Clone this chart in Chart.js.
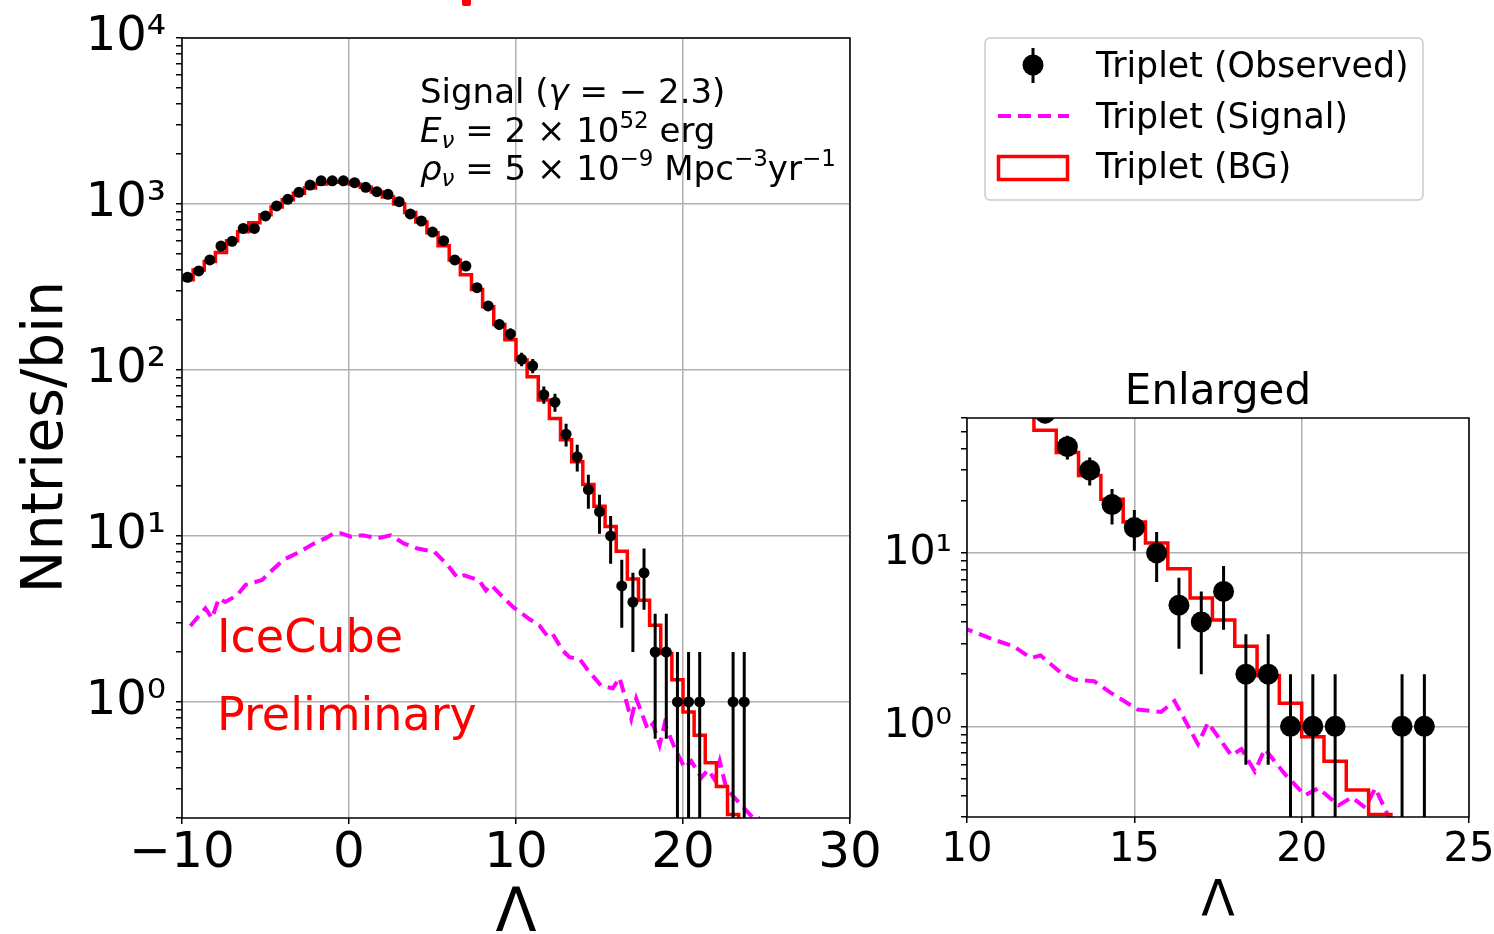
<!DOCTYPE html>
<html>
<head>
<meta charset="utf-8">
<title>Triplet Lambda distribution</title>
<script src="https://cdn.jsdelivr.net/npm/chart.js@4.4.0/dist/chart.umd.min.js"></script>
<style>
  html, body { margin: 0; padding: 0; background: #fff; }
  #wrap { position: relative; width: 1494px; height: 934px; overflow: hidden; }
  canvas, svg { position: absolute; left: 0; top: 0; }
</style>
</head>
<body>
<div id="wrap">
  <canvas id="mainChart" width="1494" height="934"></canvas>
  <canvas id="zoomChart" width="1494" height="934"></canvas>
  <svg id="overlay" width="1494" height="934" font-family="DejaVu Sans, sans-serif">
    <rect x="462" y="-4" width="9" height="10" rx="2" fill="#ff0000"/>

    <!-- y axis label of the main panel -->
    <text transform="translate(62,437) rotate(-90)" text-anchor="middle" font-size="57">Nntries/bin</text>

    <!-- signal annotation -->
    <text x="420" y="103" font-size="34">Signal (<tspan font-style="italic">γ</tspan> = − 2.3)</text>
    <text x="420" y="141.5" font-size="34"><tspan font-style="italic">E</tspan><tspan font-style="italic" font-size="23" dy="6">ν</tspan><tspan dy="-6"> = 2 × 10</tspan><tspan font-size="23" dy="-14">52</tspan><tspan dy="14"> erg</tspan></text>
    <text x="420" y="180" font-size="34"><tspan font-style="italic">ρ</tspan><tspan font-style="italic" font-size="23" dy="6">ν</tspan><tspan dy="-6"> = 5 × 10</tspan><tspan font-size="23" dy="-14">−9</tspan><tspan dy="14"> Mpc</tspan><tspan font-size="23" dy="-14">−3</tspan><tspan dy="14">yr</tspan><tspan font-size="23" dy="-14">−1</tspan></text>

    <text x="217" y="652" font-size="46" fill="#ff0000">IceCube</text>
    <text x="217" y="730" font-size="46" fill="#ff0000">Preliminary</text>

    <text x="1218" y="404" font-size="42" text-anchor="middle">Enlarged</text>

    <!-- legend -->
    <rect x="985" y="38" width="438" height="162" rx="5" fill="#ffffff" fill-opacity="0.8" stroke="#cccccc" stroke-width="1.5"/>
    <line x1="1033" y1="48" x2="1033" y2="83" stroke="#000" stroke-width="3"/>
    <circle cx="1033" cy="65" r="10.5" fill="#000"/>
    <line x1="998" y1="116" x2="1069" y2="116" stroke="#ff00ff" stroke-width="4" stroke-dasharray="13 7"/>
    <rect x="998.5" y="156.5" width="69" height="23" fill="none" stroke="#ff0000" stroke-width="3.5"/>
    <text x="1096" y="77" font-size="34.8">Triplet (Observed)</text>
    <text x="1096" y="128" font-size="34.8">Triplet (Signal)</text>
    <text x="1096" y="178" font-size="34.8">Triplet (BG)</text>
  </svg>
</div>
<script>
// ---- data ----
const binEdges = [-10, -9.333, -8.667, -8, -7.333, -6.667, -6, -5.333, -4.667, -4,
  -3.333, -2.667, -2, -1.333, -0.667, 0, 0.667, 1.333, 2, 2.667,
  3.333, 4, 4.667, 5.333, 6, 6.667, 7.333, 8, 8.667, 9.333,
  10, 10.667, 11.333, 12, 12.667, 13.333, 14, 14.667, 15.333, 16,
  16.667, 17.333, 18, 18.667, 19.333, 20, 20.667, 21.333, 22, 22.667,
  23.333, 24];

const observed = [362, 395, 460, 558, 596, 713, 713, 847, 973, 1067,
  1175, 1300, 1380, 1380, 1380, 1343, 1260, 1186, 1143, 1032,
  871, 790, 677, 601, 460, 423, 313, 243, 188, 165,
  116, 106, 71, 64, 41, 30, 19, 14, 10, 5,
  4, 6, 2, 2, 1, 1, 1, 0, 0, 1, 1];

const obsErr = [19.0, 19.9, 21.4, 23.6, 24.4, 26.7, 26.7, 29.1, 31.2, 32.7,
  34.3, 36.1, 37.1, 37.1, 37.1, 36.6, 35.5, 34.4, 33.8, 32.1,
  29.5, 28.1, 26.0, 24.5, 21.4, 20.6, 17.7, 15.6, 13.7, 12.8,
  10.8, 10.3, 8.4, 8.0, 6.4, 5.5, 4.4, 3.7, 3.2, 2.2,
  2.0, 2.4, 1.4, 1.4, 1, 1, 1, 0, 0, 1, 1];

const bgCounts = [350, 400, 450, 510, 600, 680, 770, 860, 960, 1060,
  1160, 1250, 1320, 1350, 1350, 1320, 1260, 1180, 1100, 1000,
  890, 780, 670, 560, 460, 375, 305, 240, 188, 152,
  115, 91, 66, 51, 38, 28, 20.4, 15.1, 11.4, 8.1,
  5.5, 4.1, 2.9, 1.96, 1.36, 0.87, 0.63, 0.43, 0.31, 0.21, 0];

const sigX = [-9.5, -8.6, -8.2, -7.8, -7.4, -6.7, -6.2, -5.2, -4.7, -3.9,
  -3.1, -2.1, -1.4, -0.9, -0.5, 0.1, 0.8, 1.7, 2.5, 3.3,
  4.1, 5.1, 5.9, 6.5, 6.9, 7.8, 8.2, 8.5, 9.2, 9.8,
  10.8, 11.4, 11.9, 12.2, 12.8, 13.2, 13.8, 14.3, 15.1, 15.8,
  16.2, 16.9, 17.2, 17.9, 18.2, 18.6, 18.9, 19.5, 20.1, 20.5,
  21.1, 21.5, 21.9, 22.2, 22.6, 23.4, 24.2, 24.6];
const sigY = [2.87, 3.67, 3.19, 4.2, 4.0, 4.4, 5.07, 5.43, 6.1, 7.2,
  7.9, 9.0, 9.7, 10.4, 10.4, 9.9, 10.1, 9.7, 10.1, 9.0,
  8.4, 8.05, 6.7, 5.6, 5.8, 5.4, 4.7, 5.07, 4.3, 3.75,
  3.16, 2.89, 2.48, 2.56, 2.04, 1.86, 1.82, 1.56, 1.25, 1.21,
  1.40, 0.79, 1.05, 0.68, 0.74, 0.55, 0.74, 0.53, 0.40, 0.44,
  0.35, 0.39, 0.34, 0.44, 0.30, 0.245, 0.2, 0.2];

const mainXTicks  = [-10, 0, 10, 20, 30];
const mainXLabels = ['−10', '0', '10', '20', '30'];
const mainYDecades = [1, 10, 100, 1000, 10000];
const mainYLabels  = ['10⁰', '10¹', '10²', '10³', '10⁴'];

const zoomXTicks  = [10, 15, 20, 25];
const zoomXLabels = ['10', '15', '20', '25'];
const zoomYDecades = [1, 10];
const zoomYLabels  = ['10⁰', '10¹'];

// ---- derived tables ----
const FONT = '"DejaVu Sans", sans-serif';
const FLOOR = 0.01;   // zero counts go below the axis on a log scale

const centers = binEdges.slice(0, -1).map((e, i) => (e + binEdges[i + 1]) / 2);
const obsPoints = [];
const errPoints = [];
observed.forEach((n, i) => {
  if (n <= 0) return;
  obsPoints.push({ x: centers[i], y: n });
  errPoints.push({ x: centers[i], y: Math.max(n - obsErr[i], FLOOR) },
                 { x: centers[i], y: n + obsErr[i] },
                 { x: centers[i], y: null });
});
// each bin's height is held from its left edge to the next edge
const bgPoints  = bgCounts.map((v, i) => ({ x: binEdges[i], y: Math.max(v, FLOOR) }));
const sigPoints = sigX.map((x, i) => ({ x, y: sigY[i] }));

function logTickValues(min, max) {
  const out = [];
  for (let e = -2; e <= 5; e++) {
    for (let m = 1; m <= 9; m++) {
      const v = +(m * Math.pow(10, e)).toPrecision(6);
      if (v >= min * 0.9999 && v <= max * 1.0001) out.push(v);
    }
  }
  return out;
}
const decadeIndex = (v, decades) => decades.findIndex(d => Math.abs(v / d - 1) < 1e-6);

// spines on all four sides, above the data like matplotlib
const framePlugin = {
  id: 'frame',
  afterDatasetsDraw(chart) {
    const { ctx, chartArea: a } = chart;
    ctx.save();
    ctx.strokeStyle = '#000';
    ctx.lineWidth = 1.5;
    ctx.strokeRect(a.left, a.top, a.right - a.left, a.bottom - a.top);
    ctx.restore();
  }
};

function buildChart(id, c) {
  return new Chart(document.getElementById(id), {
    type: 'scatter',
    data: {
      datasets: [
        { label: 'Triplet (Observed)', type: 'line', data: obsPoints, showLine: false,
          pointRadius: c.dotR, pointBackgroundColor: '#000', pointBorderWidth: 0,
          order: 0, clip: 0 },
        { label: 'errors', type: 'line', data: errPoints, borderColor: '#000',
          borderWidth: c.errW, pointRadius: 0, spanGaps: false, order: 1, clip: 0 },
        { label: 'Triplet (BG)', type: 'line', data: bgPoints, stepped: 'before',
          borderColor: '#ff0000', borderWidth: c.bgW, borderJoinStyle: 'miter',
          pointRadius: 0, order: 2, clip: 0 },
        { label: 'Triplet (Signal)', type: 'line', data: sigPoints, borderColor: '#ff00ff',
          borderWidth: c.sigW, borderDash: [13, 7], pointRadius: 0, order: 3, clip: 0 }
      ]
    },
    options: {
      responsive: false,
      animation: false,
      devicePixelRatio: 1,
      layout: { padding: c.padding },
      plugins: { legend: { display: false }, tooltip: { enabled: false } },
      scales: {
        x: {
          type: 'linear', min: c.xMin, max: c.xMax,
          afterBuildTicks: s => { s.ticks = c.xTicks.map(v => ({ value: v })); },
          afterFit: s => { s.height = c.xHeight; s.paddingLeft = 0; s.paddingRight = 0; },
          ticks: {
            autoSkip: false, maxRotation: 0, color: '#000', padding: c.xPad,
            font: { family: FONT, size: c.xTickSize, lineHeight: 1 },
            callback: v => { const i = c.xTicks.indexOf(v); return i >= 0 ? c.xLabels[i] : ''; }
          },
          grid: { color: '#b0b0b0', lineWidth: 1.5, tickColor: '#000', tickLength: 6, tickWidth: 1.5 },
          border: { display: false },
          title: {
            display: true, text: 'Λ', color: '#000',
            font: { family: FONT, size: c.xTitleSize, lineHeight: c.xTitleLH },
            padding: { top: 0, bottom: c.xTitlePad }
          }
        },
        y: {
          type: 'logarithmic', min: c.yMin, max: c.yMax,
          afterBuildTicks: s => { s.ticks = logTickValues(c.yMin, c.yMax).map(v => ({ value: v })); },
          afterFit: s => { s.width = c.yWidth; s.paddingTop = 0; s.paddingBottom = 0; },
          ticks: {
            autoSkip: false, color: '#000', padding: c.yPad,
            font: { family: FONT, size: c.yTickSize, lineHeight: 1 },
            callback: v => { const i = decadeIndex(v, c.yDecades); return i >= 0 ? c.yLabels[i] : ''; }
          },
          grid: {
            color: ctx => (ctx.tick && decadeIndex(ctx.tick.value, c.yDecades) >= 0) ? '#b0b0b0' : 'rgba(0,0,0,0)',
            tickColor: '#000', lineWidth: 1.5, tickLength: 6, tickWidth: 1.5
          },
          border: { display: false }
        }
      }
    },
    plugins: [framePlugin]
  });
}

buildChart('mainChart', {
  padding: { left: 0, top: 38, right: 644, bottom: 0 },
  xMin: -10, xMax: 30, xTicks: mainXTicks, xLabels: mainXLabels,
  yMin: 0.2, yMax: 10000, yDecades: mainYDecades, yLabels: mainYLabels,
  yWidth: 182, xHeight: 116, xTickSize: 50, yTickSize: 48, xPad: 5, yPad: 10,
  xTitleSize: 60, xTitleLH: 0.6, xTitlePad: 1,
  dotR: 5.5, errW: 3, bgW: 3.5, sigW: 4
});

buildChart('zoomChart', {
  padding: { left: 877, top: 418, right: 25, bottom: 0 },
  xMin: 10, xMax: 25, xTicks: zoomXTicks, xLabels: zoomXLabels,
  yMin: 0.3, yMax: 60, yDecades: zoomYDecades, yLabels: zoomYLabels,
  yWidth: 90, xHeight: 117, xTickSize: 40, yTickSize: 41, xPad: 8, yPad: 9,
  xTitleSize: 49, xTitleLH: 1, xTitlePad: 7,
  dotR: 10.5, errW: 3, bgW: 3.5, sigW: 4
});
</script>
</body>
</html>
